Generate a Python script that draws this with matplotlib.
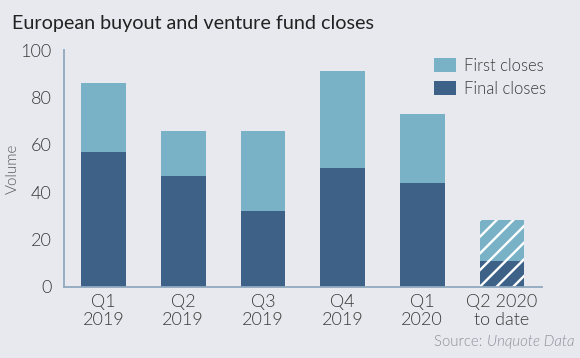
import matplotlib
matplotlib.use('Agg')
from matplotlib import pyplot as plt
from matplotlib.patches import Patch

quarters = ['Q1\n2019', 'Q2\n2019', 'Q3\n2019', 'Q4\n2019', 'Q1\n2020', 'Q2 2020\nto date']
final_closes = [57, 47, 32, 50, 44, 11]
first_closes = [29, 19, 34, 41, 29, 17]
y_ticks = [0, 20, 40, 60, 80, 100]

bg = '#e8e9ee'
c_first = '#79b2c6'
c_final = '#3e6287'
c_text = '#3a3a3a'
c_spine = '#8fa8bf'
LIGHT = 300

plt.rcParams['font.family'] = ['Lato', 'DejaVu Sans']
plt.rcParams['hatch.linewidth'] = 1.7

fig = plt.figure(figsize=(5.8, 3.58), dpi=100, facecolor=bg)
ax = fig.add_axes([0.110, 0.199, 0.824, 0.661], facecolor=bg)

x = list(range(len(quarters)))
n = len(quarters)
# last quarter is partial: hatched
for i in x:
    hatch = '//' if i == n - 1 else None
    ec = 'white' if hatch else c_final
    ax.bar(i, final_closes[i], width=0.56, color=c_final, edgecolor=ec, linewidth=0, hatch=hatch)
    ec = 'white' if hatch else c_first
    ax.bar(i, first_closes[i], width=0.56, bottom=final_closes[i], color=c_first,
           edgecolor=ec, linewidth=0, hatch=hatch)

ax.set_xlim(-0.5, 5.5)
ax.set_ylim(0, 100)
ax.set_xticks(x)
ax.set_xticklabels(quarters, fontsize=13, color=c_text, linespacing=1.2, fontweight=LIGHT)
ax.set_yticks(y_ticks)
ax.set_yticklabels([str(v) for v in y_ticks], fontsize=13, color=c_text, fontweight=LIGHT)
ax.tick_params(length=0)
ax.tick_params(axis='y', pad=9)
ax.tick_params(axis='x', pad=5)

for s in ['top', 'right']:
    ax.spines[s].set_visible(False)
for s in ['left', 'bottom']:
    ax.spines[s].set_color(c_spine)
    ax.spines[s].set_linewidth(1.3)

ax.set_ylabel('Volume', fontsize=11, color='#555555', fontweight=LIGHT)
ax.yaxis.set_label_coords(-0.092, 0.5)

handles = [Patch(facecolor=c_first, label='First closes'),
           Patch(facecolor=c_final, label='Final closes')]
ax.legend(handles=handles, loc='upper right', bbox_to_anchor=(1.04, 1.03), frameon=False,
          labelcolor=c_text, handlelength=1.35, handleheight=0.95,
          handletextpad=0.45, labelspacing=0.4,
          prop={'family': ['Lato', 'DejaVu Sans'], 'weight': LIGHT, 'size': 12})

fig.text(0.02, 0.935, 'European buyout and venture fund closes', fontsize=14.2, color='#222222',
         va='center', ha='left')
fig.text(0.99, 0.045, 'Unquote Data', fontsize=10.8, color='#8a8f99', style='italic',
         ha='right', va='center', fontweight=LIGHT)
fig.text(0.99 - 0.152, 0.045, 'Source: ', fontsize=10.8, color='#8a8f99', ha='right',
         va='center', fontweight=LIGHT)

fig.savefig('out.png', dpi=100, facecolor=bg)
